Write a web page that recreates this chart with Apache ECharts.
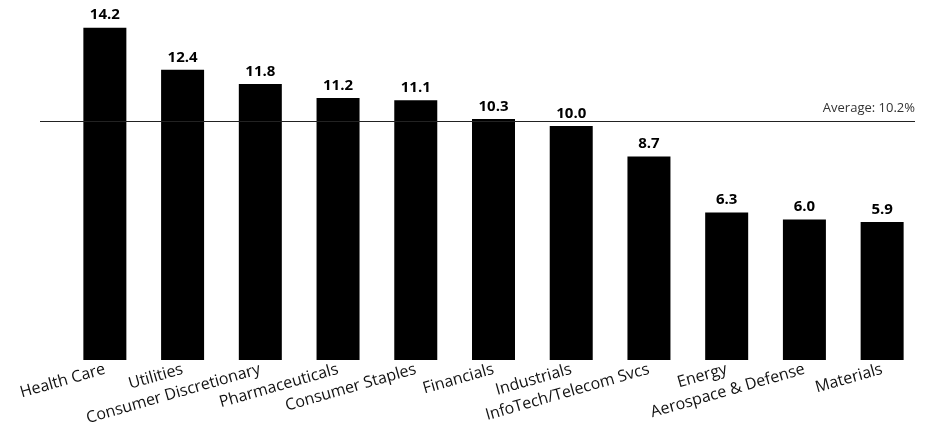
<!DOCTYPE html>
<html>
<head>
<meta charset="utf-8">
<script src="https://cdn.jsdelivr.net/npm/echarts@6/dist/echarts.min.js"></script>
<style>
  html, body { margin: 0; padding: 0; background: #fff; }
  #chart { width: 948px; height: 448px; }
</style>
</head>
<body>
<div id="chart"></div>
<script>
// Sector growth figures, highest to lowest
const categories = [
  'Health Care', 'Utilities', 'Consumer Discretionary', 'Pharmaceuticals',
  'Consumer Staples', 'Financials', 'Industrials', 'InfoTech/Telecom Svcs',
  'Energy', 'Aerospace & Defense', 'Materials'
];
const values = [14.2, 12.4, 11.8, 11.2, 11.1, 10.3, 10.0, 8.7, 6.3, 6.0, 5.9];
const averageValue = 10.2;
const averageLabel = 'Average: 10.2%';

const FONT = '"Open Sans", "Noto Sans", sans-serif';

const chart = echarts.init(document.getElementById('chart'), null, { renderer: 'canvas' });

chart.setOption({
  animation: false,
  backgroundColor: '#ffffff',
  grid: { left: 66, right: 27, top: 9, bottom: 88 },
  xAxis: {
    type: 'category',
    data: categories,
    axisLine: { show: false },
    axisTick: { show: false },
    axisLabel: {
      rotate: 16,
      margin: 9,
      interval: 0,
      fontFamily: FONT,
      fontSize: 16,
      color: '#111'
    }
  },
  yAxis: {
    type: 'value',
    min: 0,
    max: 15,
    show: false,
    splitLine: { show: false }
  },
  series: [{
    type: 'bar',
    data: values,
    barWidth: 43,
    itemStyle: { color: '#000' },
    label: {
      show: true,
      position: 'top',
      distance: 5,
      formatter: p => p.value.toFixed(1),
      fontFamily: FONT,
      fontWeight: 'bold',
      fontSize: 15,
      color: '#000'
    },
    markLine: {
      silent: true,
      symbol: ['none', 'none'],
      lineStyle: { color: '#222', width: 1.2, type: 'solid' },
      label: {
        show: true,
        position: 'insideEndTop',
        distance: [0, 7],
        formatter: averageLabel,
        fontFamily: FONT,
        fontSize: 13,
        color: '#333'
      },
      data: [[
        { yAxis: averageValue, x: 40 },
        { yAxis: averageValue, x: 915 }
      ]]
    }
  }]
});
</script>
</body>
</html>
